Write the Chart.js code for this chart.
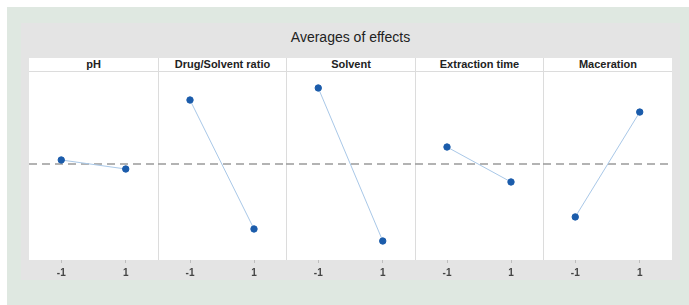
<!DOCTYPE html>
<html>
<head>
<meta charset="utf-8">
<script src="https://cdn.jsdelivr.net/npm/chart.js@4"></script>
<style>
  body { margin: 0; background: #fff; width: 689px; height: 305px; overflow: hidden; font-family: "Liberation Sans", Arial, sans-serif; }
  #bg { position: absolute; left: 7px; top: 7px; width: 682px; height: 298px; background: #dfe8e1; }
  #panel { position: absolute; left: 21px; top: 23px; width: 659px; height: 257px; background: #e4e4e4; }
  #title { position: absolute; left: 0; top: 6px; width: 100%; text-align: center; font-size: 14px; color: #222; }
  #facets { position: absolute; left: 8px; top: 35px; width: 643px; height: 222px; }
  .facet { position: absolute; top: 0; height: 222px; }
  .head { position: absolute; left: 0; top: 0; right: 0; height: 13px; line-height: 13px; background: #fff; border-bottom: 1px solid #dcdcdc; text-align: center; font-size: 11px; font-weight: bold; color: #222; }
  .facet + .facet .head { border-left: 1px solid #dcdcdc; }
  .plot { position: absolute; left: 0; top: 14px; right: 0; height: 208px; }
</style>
</head>
<body>
<div id="bg"></div>
<div id="panel">
  <div id="title">Averages of effects</div>
  <div id="facets"></div>
</div>
<script>
// Factores y niveles
const factors = ['pH', 'Drug/Solvent ratio', 'Solvent', 'Extraction time', 'Maceration'];
const levels = [-1, 1];

// Medias en nivel -1 y nivel 1
const lowMeans = [53.2, 85.1, 91.5, 60.1, 22.9];
const highMeans = [48.4, 16.5, 10.1, 41.5, 78.7];
const grandMean = 51.1;

// Fondo blanco del área de trazado y separador vertical
const plotBg = {
    id: 'plotBg',
    beforeDraw(chart) {
        const a = chart.chartArea;
        const ctx = chart.ctx;
        ctx.save();
        ctx.fillStyle = '#fff';
        ctx.fillRect(a.left, a.top, a.right - a.left, a.bottom - a.top);
        if (chart.options.plugins.plotBg.sep) {
            ctx.strokeStyle = '#dcdcdc';
            ctx.lineWidth = 1;
            ctx.beginPath();
            ctx.moveTo(a.left + 0.5, a.top);
            ctx.lineTo(a.left + 0.5, a.bottom);
            ctx.stroke();
        }
        ctx.restore();
    }
};

const container = document.getElementById('facets');
const facetWidth = 643 / factors.length;

factors.forEach((name, i) => {
    const facet = document.createElement('div');
    facet.className = 'facet';
    const left = Math.round(i * facetWidth);
    facet.style.left = left + 'px';
    facet.style.width = (Math.round((i + 1) * facetWidth) - left) + 'px';
    const head = document.createElement('div');
    head.className = 'head';
    head.textContent = name;
    const plot = document.createElement('div');
    plot.className = 'plot';
    const canvas = document.createElement('canvas');
    plot.appendChild(canvas);
    facet.appendChild(head);
    facet.appendChild(plot);
    container.appendChild(facet);

    new Chart(canvas.getContext('2d'), {
        type: 'line',
        plugins: [plotBg],
        data: {
            datasets: [{
                label: 'Mean',
                data: [{ x: -2, y: grandMean }, { x: 2, y: grandMean }],
                borderColor: '#9a9a9a',
                borderWidth: 1.5,
                borderDash: [8, 5],
                pointRadius: 0,
                order: 2
            }, {
                label: name,
                data: [{ x: levels[0], y: lowMeans[i] }, { x: levels[1], y: highMeans[i] }],
                borderColor: '#a9c8e8',
                borderWidth: 1,
                pointRadius: 3.2,
                pointBackgroundColor: '#1b5cab',
                pointBorderColor: '#1b5cab',
                order: 1
            }]
        },
        options: {
            responsive: true,
            maintainAspectRatio: false,
            animation: false,
            layout: { padding: 0, autoPadding: false },
            plugins: {
                legend: { display: false },
                tooltip: { enabled: false },
                plotBg: { sep: i > 0 }
            },
            scales: {
                x: {
                    type: 'linear',
                    min: -2,
                    max: 2,
                    afterBuildTicks: (s) => { s.ticks = levels.map(v => ({ value: v })); },
                    afterFit: (s) => { s.height = 20; },
                    border: { display: false },
                    grid: { drawOnChartArea: false, drawTicks: true, tickLength: 3, color: '#bdbdbd' },
                    ticks: {
                        padding: 4,
                        color: '#444',
                        font: { family: 'Liberation Sans', size: 10, weight: 'bold' },
                        callback: (v) => String(v)
                    }
                },
                y: {
                    display: false,
                    min: 0,
                    max: 100
                }
            }
        }
    });
});
</script>
</body>
</html>
